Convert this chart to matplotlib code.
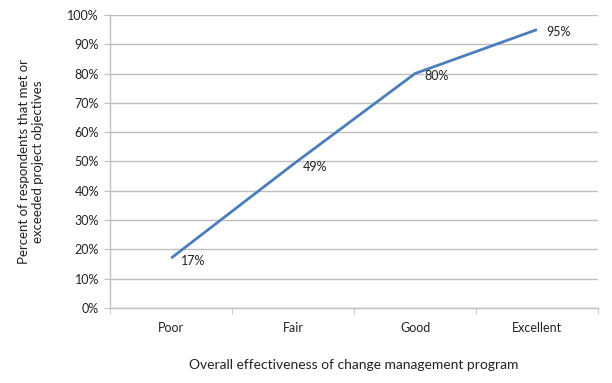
import matplotlib.pyplot as plt
from matplotlib.ticker import FuncFormatter

categories = ["Poor", "Fair", "Good", "Excellent"]
values = [17, 49, 80, 95]
y_ticks = list(range(0, 101, 10))

plt.rcParams['font.family'] = ['Lato', 'DejaVu Sans']

fig = plt.figure(figsize=(6.12, 3.83), dpi=100)
ax = fig.add_axes([0.18, 0.196, 0.797, 0.765])

x = list(range(len(categories)))
ax.plot(x, values, color="#4A7EBB", lw=2.0, solid_capstyle="butt")

for xi, v in zip(x, values):
    ax.annotate(f"{v}%", (xi, v), xytext=(7, -2), textcoords="offset points",
                ha="left", va="center", fontsize=9, color="#222222")

ax.set_xlim(-0.5, len(categories) - 0.5)
ax.set_ylim(0, 100)
ax.set_yticks(y_ticks)
ax.yaxis.set_major_formatter(FuncFormatter(lambda v, p: f"{int(v)}%"))
ax.set_xticks(x)
ax.set_xticklabels(categories)
ax.set_xticks([i - 0.5 for i in range(len(categories) + 1)], minor=True)

ax.grid(axis="y", color="#BFBFBF", lw=1)
ax.set_axisbelow(True)
for s in ["top", "right"]:
    ax.spines[s].set_visible(False)
for s in ["left", "bottom"]:
    ax.spines[s].set_color("#BFBFBF")
    ax.spines[s].set_linewidth(1)

ax.tick_params(axis="x", which="major", length=0, pad=10, labelsize=9, labelcolor="#222222")
ax.tick_params(axis="x", which="minor", length=4, color="#BFBFBF")
ax.tick_params(axis="y", length=4, color="#BFBFBF", labelsize=9, labelcolor="#222222", pad=4)

ax.set_xlabel("Overall effectiveness of change management program", fontsize=10,
              labelpad=18, color="#222222")
ax.set_ylabel("Percent of respondents that met or\nexceeded project objectives", fontsize=9.5,
              labelpad=17, color="#222222")

fig.savefig("out.png", dpi=100)
